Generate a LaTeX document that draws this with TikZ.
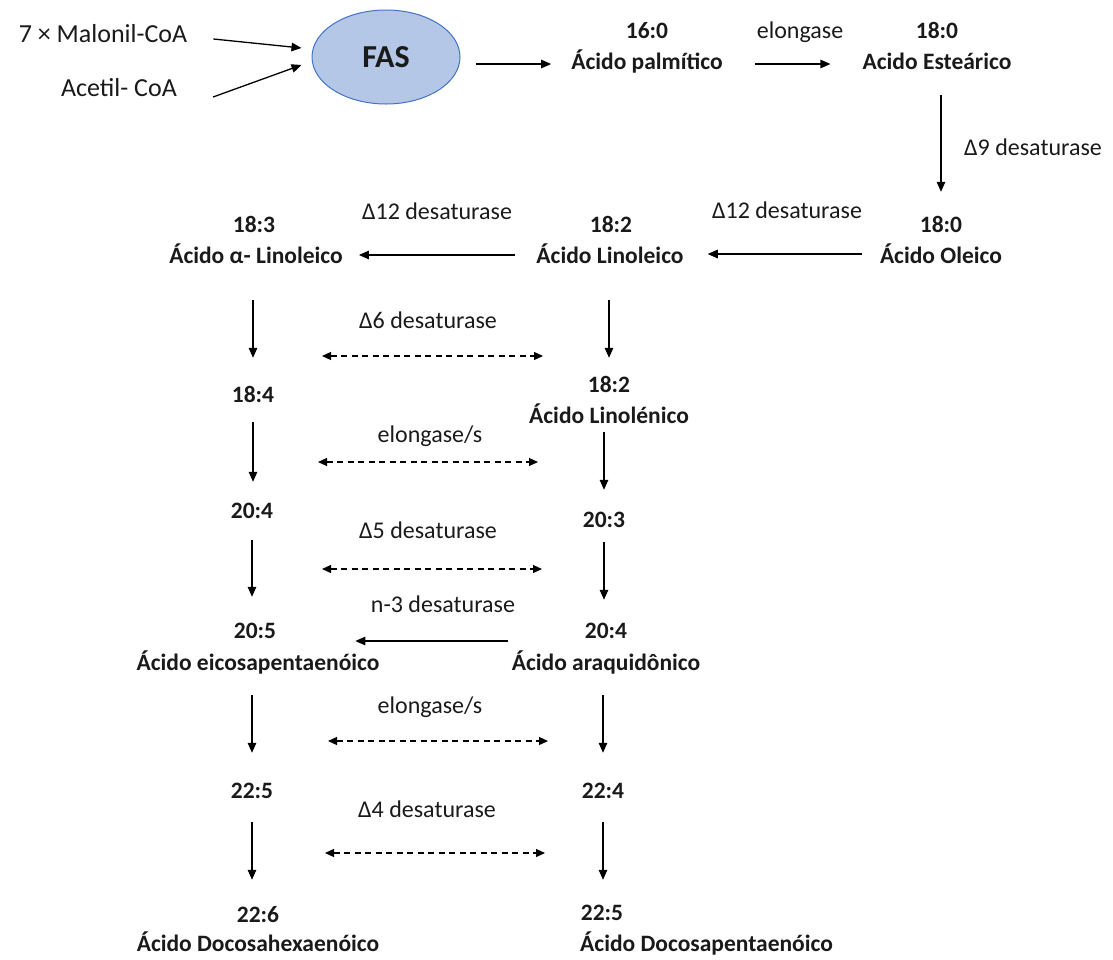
\documentclass[tikz,border=0pt]{standalone}
\usepackage{fontspec}
\setmainfont{Carlito}
\usetikzlibrary{arrows.meta,calc,shapes.geometric}
\definecolor{fasfill}{HTML}{B4C7E7}
\definecolor{fasline}{HTML}{4472C4}
\definecolor{ink}{HTML}{1A1A1A}

\begin{document}
\begin{tikzpicture}[x=1pt,y=-1pt,
  lbl/.style={inner sep=0pt, text height=16pt, text depth=5pt, text=ink},
  acid/.style={lbl, font=\fontsize{23.5}{28}\selectfont\bfseries},
  enz/.style={lbl, font=\fontsize{24}{28}\selectfont},
  src/.style={lbl, font=\fontsize{26}{30}\selectfont},
  arr/.style={draw=black, line width=1.3pt, -{Triangle[length=10pt,width=8.5pt]}},
  dbl/.style={draw=black, line width=1.2pt, dash pattern=on 6pt off 4.5pt,
    {Triangle[length=9pt,width=8pt]}-{Triangle[length=9pt,width=8pt]}},
]
\useasboundingbox (0,0) rectangle (1113,959);

% substrates and the synthase
\node[src] (mal) at (103,37) {7 × Malonil-CoA};
\node[src] (ace) at (119,91) {Acetil- CoA};
\node[ellipse, draw=fasline, fill=fasfill, line width=1pt,
      minimum width=148pt, minimum height=94pt, inner sep=0pt,
      font=\fontsize{32}{36}\selectfont\bfseries, text=ink] (fas) at (386,57) {FAS};

% saturated acids
\node[acid] (n160) at (647,33) {16:0};
\node[acid] (palm) at (647,64) {Ácido palmítico};
\node[enz] (elo1) at (800,33) {elongase};
\node[acid] (n180a) at (937,33) {18:0};
\node[acid] (este) at (937,64) {Acido Esteárico};
\node[enz] (d9) at (1033,150) {Δ9 desaturase};

% C18 unsaturated
\node[acid] (n180b) at (941,227) {18:0};
\node[acid] (oleico) at (941,258) {Ácido Oleico};
\node[enz] (d12a) at (787,213) {Δ12 desaturase};
\node[acid] (n182a) at (611,227) {18:2};
\node[acid] (linoleico) at (610,258) {Ácido Linoleico};
\node[enz] (d12b) at (437,214) {Δ12 desaturase};
\node[acid] (n183) at (254,227) {18:3};
\node[acid] (alin) at (256,258) {Ácido α- Linoleico};

\node[enz] (d6) at (428,323) {Δ6 desaturase};
\node[acid] (n184) at (253,397) {18:4};
\node[acid] (n182b) at (609,387) {18:2};
\node[acid] (linolen) at (609,418) {Ácido Linolénico};

% C20
\node[enz] (elo2) at (430,437) {elongase/s};
\node[acid] (n204a) at (252,513) {20:4};
\node[acid] (n203) at (604,522) {20:3};
\node[enz] (d5) at (428,533) {Δ5 desaturase};

\node[enz] (n3d) at (443,607) {n-3 desaturase};
\node[acid] (n205) at (255,633) {20:5};
\node[acid] (epa) at (258,665) {Ácido eicosapentaenóico};
\node[acid] (n204b) at (606,633) {20:4};
\node[acid] (ara) at (606,665) {Ácido araquidônico};

% C22
\node[enz] (elo3) at (430,708) {elongase/s};
\node[acid] (n225a) at (252,793) {22:5};
\node[acid] (n224) at (603,793) {22:4};
\node[enz] (d4) at (427,812) {Δ4 desaturase};

\node[acid] (n226) at (258,917) {22:6};
\node[acid] (dha) at (258,946) {Ácido Docosahexaenóico};
\node[acid] (n225b) at (602,915) {22:5};
\node[acid, anchor=west] (dpa) at (580,946) {Ácido Docosapentaenóico};

% synthesis and elongation
\draw[arr] ([shift={(26,2)}]mal.east) -- ([shift={(-10,-9)}]fas.west);
\draw[arr] ([shift={(36,6)}]ace.east) -- ([shift={(-10,8)}]fas.west);
\draw[arr, shorten <=15pt, shorten >=20pt] (fas.east |- palm) -- (palm.west);
\draw[arr, shorten <=32pt, shorten >=32pt] (palm) -- (este);
\draw[arr, shorten <=20.5pt, shorten >=24.5pt] (este.south -| n180b) -- (n180b.north);

% desaturation steps
\draw[arr, shorten <=18pt, shorten >=24pt] ([yshift=4pt]oleico.west) -- ([yshift=4pt]linoleico.east);
\draw[arr, shorten <=21pt, shorten >=16pt] ([yshift=3pt]linoleico.west) -- ([yshift=3pt]alin.east);
\draw[arr, shorten <=77pt, shorten >=79pt] ([yshift=-8pt]n204b.west) -- ([yshift=-8pt]n205.east);

% left column (n-3)
\draw[arr, shorten <=31.5pt, shorten >=28.5pt] (alin.south -| n184) -- (n184.north);
\draw[arr, shorten <=14.5pt, shorten >=20.5pt] (n184.south) -- (n184.south |- n204a.north);
\draw[arr, shorten <=16.5pt, shorten >=25.5pt] (n204a.south) -- (n204a.south |- n205.north);
\draw[arr, shorten <=19.5pt, shorten >=29.5pt] (epa.south -| n225a) -- (n225a.north);
\draw[arr, shorten <=18.5pt, shorten >=26.5pt] (n225a.south) -- (n225a.south |- n226.north);

% right column (n-6)
\draw[arr, shorten <=31.5pt, shorten >=18.5pt] (linoleico.south -| n182b) -- (n182b.north);
\draw[arr, shorten <=3.5pt, shorten >=21.5pt] (linolen.south -| n203) -- (n203.north);
\draw[arr, shorten <=9.5pt, shorten >=22.5pt] (n203.south) -- (n203.south |- n204b.north);
\draw[arr, shorten <=19.5pt, shorten >=29.5pt] (ara.south -| n224) -- (n224.north);
\draw[arr, shorten <=18.5pt, shorten >=24.5pt] (n224.south) -- (n224.south |- n225b.north);

% shared enzymes between the two series
\coordinate (d6l) at (322,356);  \coordinate (d6r) at (543,356);
\coordinate (e2l) at (318,462);  \coordinate (e2r) at (538,462);
\coordinate (d5l) at (322,569);  \coordinate (d5r) at (542,569);
\coordinate (e3l) at (328,741);  \coordinate (e3r) at (548,741);
\coordinate (d4l) at (325,853);  \coordinate (d4r) at (545,853);
\draw[dbl] (d6l) -- (d6r);
\draw[dbl] (e2l) -- (e2r);
\draw[dbl] (d5l) -- (d5r);
\draw[dbl] (e3l) -- (e3r);
\draw[dbl] (d4l) -- (d4r);

\end{tikzpicture}
\end{document}
